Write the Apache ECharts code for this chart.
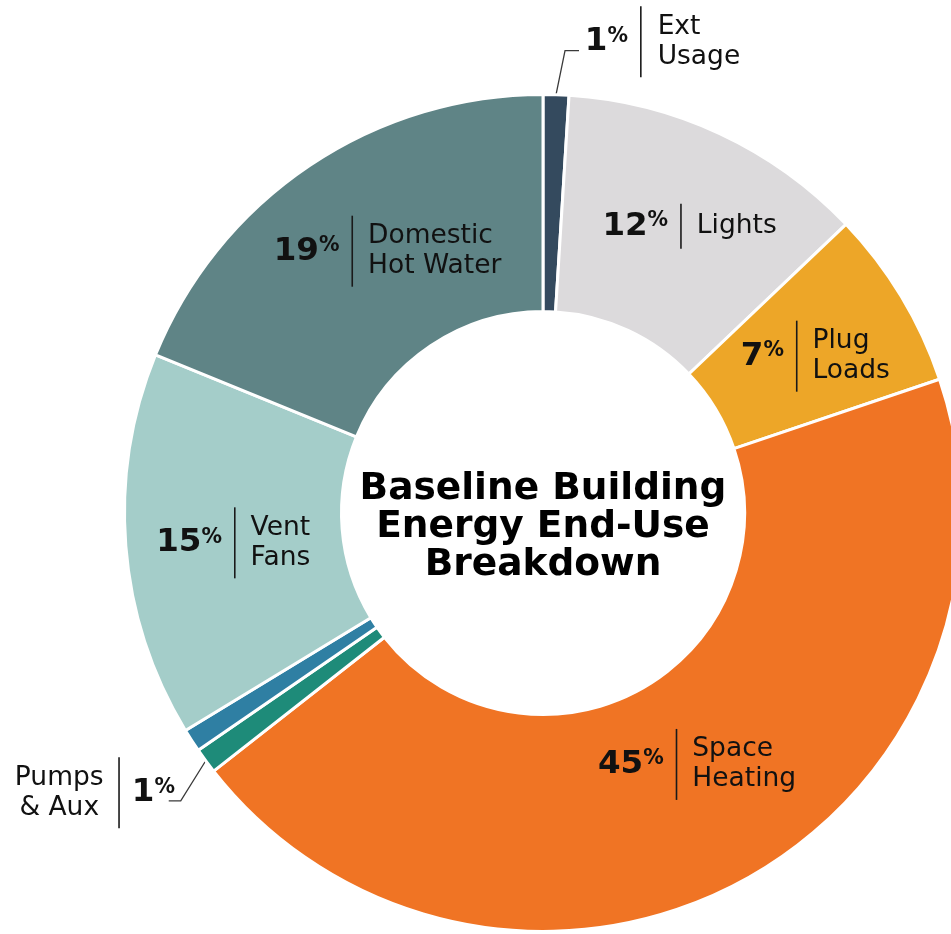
<!DOCTYPE html>
<html>
<head>
<meta charset="utf-8">
<title>Baseline Building Energy End-Use Breakdown</title>
<script src="https://cdn.jsdelivr.net/npm/echarts@6/dist/echarts.min.js"></script>
<style>
  html, body { margin: 0; padding: 0; background: #ffffff; }
  #chart { width: 951px; height: 934px; }
</style>
</head>
<body>
<div id="chart"></div>
<script>
// End-use categories, clockwise from 12 o'clock
const categories = ['Ext Usage', 'Lights', 'Plug Loads', 'Space Heating', 'Pumps & Aux', 'Misc', 'Vent Fans', 'Domestic Hot Water'];
// Share of annual building energy use, %
const shares = [1, 12, 7, 45, 1, 0.9, 15, 19];
// Name text printed beside each share ('' = slice carries no label)
const labelNames = ['Ext\nUsage', 'Lights', 'Plug\nLoads', 'Space\nHeating', 'Pumps\n& Aux', '', 'Vent\nFans', 'Domestic\nHot Water'];
const titleText = 'Baseline Building\nEnergy End-Use\nBreakdown';

// ---- styling / layout ----
const sliceColors = ['#344a5e', '#dcdadc', '#eda628', '#f07424', '#1e8b79', '#2f7fa3', '#a4cdc9', '#5f8486'];
const CX = 543, CY = 513, R_IN = 201.5, R_OUT = 418.5;
const FONT = '"DejaVu Sans", Verdana, sans-serif';
const INK = '#111111';

// 'in' = inside the ring, 'out-r' / 'out-l' = outside with a leader line, 'none' = unlabelled
const labelMode = ['out-r', 'in', 'in', 'in', 'out-l', 'none', 'in', 'in'];
// inside labels: offset of the divider rule from the ring's label anchor
const labelNudge = [null, [5, -3], [-15, 5], [-16, -24], null, null, [3, 5], [-17, -2]];
// outside labels: leader bend relative to the slice edge, horizontal run, divider offset from the run's end
const leaderShape = {
  0: { bend: [9, -44], run: 14, sep: 61, lift: 9 },
  4: { bend: [-25, 40], run: -12, sep: -50.5, lift: 8 }
};
const SEP_W = 1.6, NAME_GAP = 15;

const numRich = {
  n: { fontFamily: FONT, fontWeight: 'bold', fontSize: 32.5, color: INK, align: 'left' },
  p: { fontFamily: FONT, fontWeight: 'bold', fontSize: 20.5, color: INK, align: 'left', padding: [0, 0, 11, 0] },
  g: { width: 12, align: 'left' },
  s: { width: SEP_W, height: 71, backgroundColor: '#1a1a1a', align: 'left' },
  s1: { width: SEP_W, height: 45, backgroundColor: '#1a1a1a', align: 'left' }
};

function leaderPoints(p) {
  const shape = leaderShape[p.dataIndex];
  const p0 = p.labelLinePoints[0];
  const corner = [p0[0] + shape.bend[0], p0[1] + shape.bend[1]];
  const end = [corner[0] + shape.run, corner[1]];
  return { pts: [p0, corner, end], sepX: end[0] + shape.sep, midY: end[1] - shape.lift };
}

// shares + divider rule
const valueItems = categories.map((name, i) => {
  const mode = labelMode[i];
  const item = { name: name, value: shares[i], itemStyle: { color: sliceColors[i] } };
  if (mode === 'none') {
    item.label = { show: false };
    item.labelLine = { show: false };
    return item;
  }
  const sepKey = labelNames[i].indexOf('\n') >= 0 ? 's' : 's1';
  item.label = {
    show: true,
    position: mode === 'in' ? 'inside' : 'outside',
    formatter: function (p) {
      const num = '{n|' + p.value + '}{p|%}';
      return mode === 'out-l' ? '{' + sepKey + '|}{g|}' + num : num + '{g|}{' + sepKey + '|}';
    }
  };
  item.labelLine = { show: mode !== 'in' };
  return item;
});

// category names
const nameItems = categories.map((name, i) => {
  const mode = labelMode[i];
  const item = { name: name, value: shares[i] };
  if (mode === 'none') {
    item.label = { show: false };
    item.labelLine = { show: false };
    return item;
  }
  item.label = { show: true, position: mode === 'in' ? 'inside' : 'outside', formatter: labelNames[i] };
  item.labelLine = { show: mode !== 'in' };
  return item;
});

const ringBase = {
  type: 'pie',
  center: [CX, CY],
  radius: [R_IN, R_OUT],
  startAngle: 90,
  clockwise: true,
  avoidLabelOverlap: false,
  silent: true,
  animation: false
};

const chart = echarts.init(document.getElementById('chart'), null, { renderer: 'canvas' });
chart.setOption({
  backgroundColor: '#ffffff',
  series: [
    Object.assign({}, ringBase, {
      name: 'share',
      z: 2,
      itemStyle: { borderColor: '#ffffff', borderWidth: 3 },
      label: { rich: numRich },
      labelLine: { lineStyle: { color: '#3a3a3a', width: 1.3 } },
      labelLayout: function (p) {
        const mode = labelMode[p.dataIndex];
        if (mode === 'in') {
          const nd = labelNudge[p.dataIndex];
          return { dx: nd[0] + SEP_W, dy: nd[1], align: 'right', verticalAlign: 'middle' };
        }
        if (mode === 'none' || !p.labelLinePoints) return {};
        const L = leaderPoints(p);
        return mode === 'out-r'
          ? { x: L.sepX + SEP_W, y: L.midY, align: 'right', verticalAlign: 'middle', labelLinePoints: L.pts }
          : { x: L.sepX, y: L.midY, align: 'left', verticalAlign: 'middle', labelLinePoints: L.pts };
      },
      data: valueItems
    }),
    Object.assign({}, ringBase, {
      name: 'names',
      z: 3,
      itemStyle: { color: 'rgba(0,0,0,0)', borderWidth: 0 },
      label: { fontFamily: FONT, fontSize: 26.5, lineHeight: 30, color: INK },
      labelLine: { lineStyle: { opacity: 0 } },
      labelLayout: function (p) {
        const mode = labelMode[p.dataIndex];
        if (mode === 'in') {
          const nd = labelNudge[p.dataIndex];
          return { dx: nd[0] + SEP_W + NAME_GAP, dy: nd[1], align: 'left', verticalAlign: 'middle' };
        }
        if (mode === 'none' || !p.labelLinePoints) return {};
        const L = leaderPoints(p);
        return mode === 'out-r'
          ? { x: L.sepX + SEP_W + NAME_GAP + 1, y: L.midY, align: 'left', verticalAlign: 'middle' }
          : { x: L.sepX - NAME_GAP - 44, y: L.midY, align: 'center', verticalAlign: 'middle' };
      },
      data: nameItems
    })
  ],
  graphic: [{
    type: 'text',
    x: CX,
    y: CY + 14,
    silent: true,
    style: {
      text: titleText,
      fontFamily: FONT,
      fontWeight: 'bold',
      fontSize: 37.5,
      lineHeight: 38,
      fill: '#000000',
      align: 'center',
      verticalAlign: 'middle'
    }
  }]
});
</script>
</body>
</html>
